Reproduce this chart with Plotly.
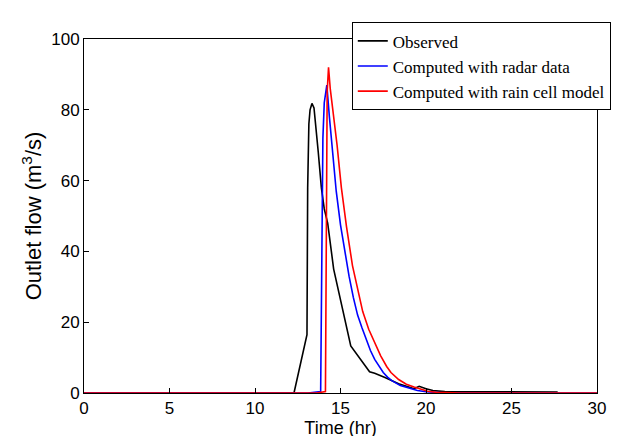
import plotly.graph_objects as go

# Observed
obs_t = [0, 12.28, 13.04, 13.08, 13.15, 13.22, 13.33, 13.45, 13.7, 13.88, 14.05, 14.25, 14.6,
         15.6, 16.7, 17.0, 17.6, 18.4, 19.3, 19.6, 20.0, 20.4, 21.1, 27.7]
obs_q = [0, 0, 16.5, 58, 76, 80, 81.8, 80.5, 68, 58, 52, 48, 35,
         13.3, 6, 5.6, 4.4, 2.6, 1.2, 1.9, 1.2, 0.7, 0.4, 0.3]

# Computed with radar data
radar_t = [0, 13.1, 13.84, 13.88, 13.92, 13.97, 14.05, 14.2, 14.35, 14.5, 14.75, 15.0, 15.25,
           15.5, 15.75, 16.0, 16.25, 16.5, 16.75, 17.0, 17.25, 17.5, 17.75, 18.0, 18.5,
           19.0, 19.5, 20.0, 20.5, 21.0, 22.0, 30.0]
radar_q = [0, 0, 0.4, 20, 50, 72, 82, 87, 78, 69.5, 57, 47.5, 40,
           33, 27, 22, 18.5, 15, 12, 9.5, 7.5, 5.8, 4.5, 3.5, 2.1,
           1.3, 0.7, 0.35, 0.15, 0.05, 0, 0]

# Computed with rain cell model
cell_t = [0, 13.6, 14.12, 14.15, 14.18, 14.22, 14.3, 14.4, 14.6, 14.8, 15.05, 15.35, 15.7,
          16.0, 16.3, 16.65, 17.0, 17.35, 17.7, 17.95, 18.4, 18.85, 19.3, 19.7, 20.1,
          20.6, 21.2, 22.0, 30.0]
cell_q = [0, 0, 0.4, 30, 65, 85, 92, 86, 78, 70, 58, 47, 36,
          29, 23, 18, 14, 10.5, 7.5, 5.8, 3.8, 2.5, 1.7, 1.0, 0.5,
          0.2, 0.05, 0, 0]

x_ticks = [0, 5, 10, 15, 20, 25, 30]
y_ticks = [0, 20, 40, 60, 80, 100]

fig = go.Figure()
fig.add_trace(go.Scatter(x=obs_t, y=obs_q, mode="lines", name="Observed",
                         line=dict(color="black", width=1.6)))
fig.add_trace(go.Scatter(x=radar_t, y=radar_q, mode="lines", name="Computed with radar data",
                         line=dict(color="#0000ff", width=1.6)))
fig.add_trace(go.Scatter(x=cell_t, y=cell_q, mode="lines", name="Computed with rain cell model",
                         line=dict(color="#ff0000", width=1.6)))

axis_common = dict(showgrid=False, zeroline=False, showline=True, linecolor="black",
                   linewidth=1, mirror=True, ticks="inside", ticklen=5, tickcolor="black",
                   tickfont=dict(family="Liberation Sans, Arial", size=17, color="black"))

fig.update_layout(
    width=622, height=436,
    margin=dict(l=76, r=33, t=31, b=45),
    paper_bgcolor="white", plot_bgcolor="white",
    xaxis=dict(range=[0, 30], tickvals=x_ticks,
               title=dict(text="Time (hr)", standoff=1,
                          font=dict(family="Liberation Sans, Arial", size=18, color="black")),
               **axis_common),
    yaxis=dict(range=[0, 100], tickvals=y_ticks,
               title=dict(text="Outlet flow (m<sup>3</sup>/s)", standoff=3,
                          font=dict(family="Liberation Sans, Arial", size=22, color="black")),
               **axis_common),
    legend=dict(x=0.522, y=1.047, xanchor="left", yanchor="top",
                bgcolor="white", bordercolor="black", borderwidth=1,
                font=dict(family="Liberation Serif, Times New Roman", size=17, color="black"),
                tracegroupgap=0),
    showlegend=True,
)

fig.write_html("out.html")
